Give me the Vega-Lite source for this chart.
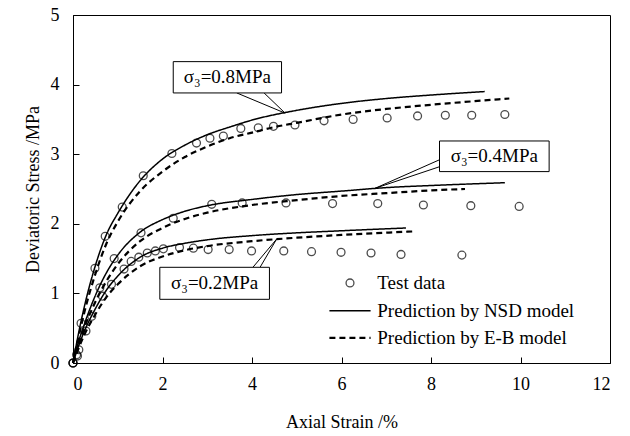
{
  "$schema": "https://vega.github.io/schema/vega-lite/v6.json",
  "width": 537,
  "height": 348,
  "autosize": "none",
  "padding": {"left": 73, "top": 15, "right": 20, "bottom": 73},
  "background": "white",
  "config": {
    "view": {"stroke": "black", "strokeWidth": 1},
    "font": "Liberation Serif",
    "axis": {
      "grid": false,
      "domainColor": "black",
      "tickColor": "black",
      "labelColor": "black",
      "titleColor": "black",
      "labelFont": "Liberation Serif",
      "titleFont": "Liberation Serif",
      "labelFontSize": 18,
      "titleFontSize": 18,
      "titleFontWeight": "normal",
      "tickSize": -6
    }
  },
  "datasets": {
    "curves": [
      {"series": "0.8 NSD", "model": "NSD", "x": 0, "y": 0},
      {"series": "0.8 NSD", "model": "NSD", "x": 0.1, "y": 0.35},
      {"series": "0.8 NSD", "model": "NSD", "x": 0.25, "y": 0.8},
      {"series": "0.8 NSD", "model": "NSD", "x": 0.5, "y": 1.4},
      {"series": "0.8 NSD", "model": "NSD", "x": 0.75, "y": 1.85},
      {"series": "0.8 NSD", "model": "NSD", "x": 1.0, "y": 2.15},
      {"series": "0.8 NSD", "model": "NSD", "x": 1.5, "y": 2.62},
      {"series": "0.8 NSD", "model": "NSD", "x": 2.0, "y": 2.93},
      {"series": "0.8 NSD", "model": "NSD", "x": 2.5, "y": 3.13},
      {"series": "0.8 NSD", "model": "NSD", "x": 3.0, "y": 3.28},
      {"series": "0.8 NSD", "model": "NSD", "x": 3.5, "y": 3.39},
      {"series": "0.8 NSD", "model": "NSD", "x": 4.0, "y": 3.49},
      {"series": "0.8 NSD", "model": "NSD", "x": 5.0, "y": 3.63},
      {"series": "0.8 NSD", "model": "NSD", "x": 6.0, "y": 3.73},
      {"series": "0.8 NSD", "model": "NSD", "x": 7.0, "y": 3.80},
      {"series": "0.8 NSD", "model": "NSD", "x": 8.0, "y": 3.85},
      {"series": "0.8 NSD", "model": "NSD", "x": 9.2, "y": 3.90},
      {"series": "0.8 EB", "model": "EB", "x": 0, "y": 0},
      {"series": "0.8 EB", "model": "EB", "x": 0.1, "y": 0.3},
      {"series": "0.8 EB", "model": "EB", "x": 0.25, "y": 0.72},
      {"series": "0.8 EB", "model": "EB", "x": 0.5, "y": 1.28},
      {"series": "0.8 EB", "model": "EB", "x": 0.75, "y": 1.72},
      {"series": "0.8 EB", "model": "EB", "x": 1.0, "y": 2.03},
      {"series": "0.8 EB", "model": "EB", "x": 1.5, "y": 2.47},
      {"series": "0.8 EB", "model": "EB", "x": 2.0, "y": 2.75},
      {"series": "0.8 EB", "model": "EB", "x": 2.5, "y": 2.96},
      {"series": "0.8 EB", "model": "EB", "x": 3.0, "y": 3.11},
      {"series": "0.8 EB", "model": "EB", "x": 3.5, "y": 3.23},
      {"series": "0.8 EB", "model": "EB", "x": 4.0, "y": 3.31},
      {"series": "0.8 EB", "model": "EB", "x": 4.5, "y": 3.39},
      {"series": "0.8 EB", "model": "EB", "x": 5.0, "y": 3.45},
      {"series": "0.8 EB", "model": "EB", "x": 6.0, "y": 3.57},
      {"series": "0.8 EB", "model": "EB", "x": 7.0, "y": 3.65},
      {"series": "0.8 EB", "model": "EB", "x": 8.0, "y": 3.71},
      {"series": "0.8 EB", "model": "EB", "x": 9.75, "y": 3.80},
      {"series": "0.4 NSD", "model": "NSD", "x": 0, "y": 0},
      {"series": "0.4 NSD", "model": "NSD", "x": 0.1, "y": 0.25},
      {"series": "0.4 NSD", "model": "NSD", "x": 0.25, "y": 0.55},
      {"series": "0.4 NSD", "model": "NSD", "x": 0.5, "y": 0.97},
      {"series": "0.4 NSD", "model": "NSD", "x": 0.75, "y": 1.3},
      {"series": "0.4 NSD", "model": "NSD", "x": 1.0, "y": 1.55},
      {"series": "0.4 NSD", "model": "NSD", "x": 1.5, "y": 1.88},
      {"series": "0.4 NSD", "model": "NSD", "x": 2.0, "y": 2.06},
      {"series": "0.4 NSD", "model": "NSD", "x": 2.5, "y": 2.18},
      {"series": "0.4 NSD", "model": "NSD", "x": 3.0, "y": 2.26},
      {"series": "0.4 NSD", "model": "NSD", "x": 4.0, "y": 2.35},
      {"series": "0.4 NSD", "model": "NSD", "x": 5.0, "y": 2.42},
      {"series": "0.4 NSD", "model": "NSD", "x": 6.0, "y": 2.47},
      {"series": "0.4 NSD", "model": "NSD", "x": 7.0, "y": 2.52},
      {"series": "0.4 NSD", "model": "NSD", "x": 8.0, "y": 2.55},
      {"series": "0.4 NSD", "model": "NSD", "x": 9.65, "y": 2.59},
      {"series": "0.4 EB", "model": "EB", "x": 0, "y": 0},
      {"series": "0.4 EB", "model": "EB", "x": 0.1, "y": 0.22},
      {"series": "0.4 EB", "model": "EB", "x": 0.25, "y": 0.5},
      {"series": "0.4 EB", "model": "EB", "x": 0.5, "y": 0.88},
      {"series": "0.4 EB", "model": "EB", "x": 0.75, "y": 1.18},
      {"series": "0.4 EB", "model": "EB", "x": 1.0, "y": 1.42},
      {"series": "0.4 EB", "model": "EB", "x": 1.5, "y": 1.75},
      {"series": "0.4 EB", "model": "EB", "x": 2.0, "y": 1.94},
      {"series": "0.4 EB", "model": "EB", "x": 2.5, "y": 2.07},
      {"series": "0.4 EB", "model": "EB", "x": 3.0, "y": 2.16},
      {"series": "0.4 EB", "model": "EB", "x": 4.0, "y": 2.27},
      {"series": "0.4 EB", "model": "EB", "x": 5.0, "y": 2.34},
      {"series": "0.4 EB", "model": "EB", "x": 6.0, "y": 2.40},
      {"series": "0.4 EB", "model": "EB", "x": 7.0, "y": 2.44},
      {"series": "0.4 EB", "model": "EB", "x": 8.0, "y": 2.48},
      {"series": "0.4 EB", "model": "EB", "x": 8.76, "y": 2.50},
      {"series": "0.2 NSD", "model": "NSD", "x": 0, "y": 0},
      {"series": "0.2 NSD", "model": "NSD", "x": 0.1, "y": 0.2},
      {"series": "0.2 NSD", "model": "NSD", "x": 0.25, "y": 0.45},
      {"series": "0.2 NSD", "model": "NSD", "x": 0.5, "y": 0.78},
      {"series": "0.2 NSD", "model": "NSD", "x": 0.75, "y": 1.05},
      {"series": "0.2 NSD", "model": "NSD", "x": 1.0, "y": 1.25},
      {"series": "0.2 NSD", "model": "NSD", "x": 1.5, "y": 1.52},
      {"series": "0.2 NSD", "model": "NSD", "x": 2.0, "y": 1.65},
      {"series": "0.2 NSD", "model": "NSD", "x": 2.5, "y": 1.72},
      {"series": "0.2 NSD", "model": "NSD", "x": 3.0, "y": 1.77},
      {"series": "0.2 NSD", "model": "NSD", "x": 4.0, "y": 1.83},
      {"series": "0.2 NSD", "model": "NSD", "x": 5.0, "y": 1.87},
      {"series": "0.2 NSD", "model": "NSD", "x": 6.0, "y": 1.90},
      {"series": "0.2 NSD", "model": "NSD", "x": 7.44, "y": 1.94},
      {"series": "0.2 EB", "model": "EB", "x": 0, "y": 0},
      {"series": "0.2 EB", "model": "EB", "x": 0.1, "y": 0.17},
      {"series": "0.2 EB", "model": "EB", "x": 0.25, "y": 0.4},
      {"series": "0.2 EB", "model": "EB", "x": 0.5, "y": 0.7},
      {"series": "0.2 EB", "model": "EB", "x": 0.75, "y": 0.95},
      {"series": "0.2 EB", "model": "EB", "x": 1.0, "y": 1.13},
      {"series": "0.2 EB", "model": "EB", "x": 1.5, "y": 1.39},
      {"series": "0.2 EB", "model": "EB", "x": 2.0, "y": 1.53},
      {"series": "0.2 EB", "model": "EB", "x": 2.5, "y": 1.62},
      {"series": "0.2 EB", "model": "EB", "x": 3.0, "y": 1.68},
      {"series": "0.2 EB", "model": "EB", "x": 4.0, "y": 1.75},
      {"series": "0.2 EB", "model": "EB", "x": 5.0, "y": 1.80},
      {"series": "0.2 EB", "model": "EB", "x": 6.0, "y": 1.84},
      {"series": "0.2 EB", "model": "EB", "x": 7.6, "y": 1.89}
    ],
    "tests": [
      {"s": "0.8", "x": 0, "y": 0}, {"s": "0.8", "x": 0.08, "y": 0.12}, {"s": "0.8", "x": 0.18, "y": 0.57},
      {"s": "0.8", "x": 0.49, "y": 1.36}, {"s": "0.8", "x": 0.72, "y": 1.82}, {"s": "0.8", "x": 1.1, "y": 2.24},
      {"s": "0.8", "x": 1.57, "y": 2.69}, {"s": "0.8", "x": 2.21, "y": 3.01}, {"s": "0.8", "x": 2.76, "y": 3.16},
      {"s": "0.8", "x": 3.06, "y": 3.23}, {"s": "0.8", "x": 3.36, "y": 3.26}, {"s": "0.8", "x": 3.75, "y": 3.37},
      {"s": "0.8", "x": 4.14, "y": 3.38}, {"s": "0.8", "x": 4.48, "y": 3.40}, {"s": "0.8", "x": 4.96, "y": 3.42},
      {"s": "0.8", "x": 5.61, "y": 3.48}, {"s": "0.8", "x": 6.26, "y": 3.50}, {"s": "0.8", "x": 7.02, "y": 3.52},
      {"s": "0.8", "x": 7.70, "y": 3.55}, {"s": "0.8", "x": 8.32, "y": 3.56}, {"s": "0.8", "x": 8.91, "y": 3.56},
      {"s": "0.8", "x": 9.65, "y": 3.57},
      {"s": "0.4", "x": 0, "y": 0}, {"s": "0.4", "x": 0.13, "y": 0.19}, {"s": "0.4", "x": 0.29, "y": 0.46},
      {"s": "0.4", "x": 0.6, "y": 1.08}, {"s": "0.4", "x": 0.92, "y": 1.5}, {"s": "0.4", "x": 1.52, "y": 1.87},
      {"s": "0.4", "x": 2.24, "y": 2.08}, {"s": "0.4", "x": 3.1, "y": 2.28}, {"s": "0.4", "x": 3.78, "y": 2.30},
      {"s": "0.4", "x": 4.76, "y": 2.30}, {"s": "0.4", "x": 5.8, "y": 2.29}, {"s": "0.4", "x": 6.81, "y": 2.29},
      {"s": "0.4", "x": 7.83, "y": 2.27}, {"s": "0.4", "x": 8.89, "y": 2.26}, {"s": "0.4", "x": 9.97, "y": 2.25},
      {"s": "0.2", "x": 0, "y": 0}, {"s": "0.2", "x": 0.1, "y": 0.1}, {"s": "0.2", "x": 0.42, "y": 0.67},
      {"s": "0.2", "x": 0.66, "y": 0.96}, {"s": "0.2", "x": 0.86, "y": 1.13}, {"s": "0.2", "x": 1.14, "y": 1.35},
      {"s": "0.2", "x": 1.3, "y": 1.46}, {"s": "0.2", "x": 1.47, "y": 1.52}, {"s": "0.2", "x": 1.66, "y": 1.58},
      {"s": "0.2", "x": 1.84, "y": 1.61}, {"s": "0.2", "x": 2.02, "y": 1.64}, {"s": "0.2", "x": 2.38, "y": 1.66},
      {"s": "0.2", "x": 2.69, "y": 1.65}, {"s": "0.2", "x": 3.02, "y": 1.63}, {"s": "0.2", "x": 3.49, "y": 1.63},
      {"s": "0.2", "x": 3.99, "y": 1.61}, {"s": "0.2", "x": 4.71, "y": 1.61}, {"s": "0.2", "x": 5.33, "y": 1.60},
      {"s": "0.2", "x": 5.99, "y": 1.59}, {"s": "0.2", "x": 6.66, "y": 1.58}, {"s": "0.2", "x": 7.33, "y": 1.56},
      {"s": "0.2", "x": 8.69, "y": 1.55}
    ],
    "pointers": [
      {"s": "0.8", "o": 1, "x": 3.66, "y": 3.88}, {"s": "0.8", "o": 2, "x": 4.74, "y": 3.59}, {"s": "0.8", "o": 3, "x": 4.27, "y": 3.88},
      {"s": "0.4", "o": 1, "x": 8.19, "y": 2.92}, {"s": "0.4", "o": 2, "x": 6.75, "y": 2.51}, {"s": "0.4", "o": 3, "x": 8.19, "y": 2.82},
      {"s": "0.2", "o": 1, "x": 4.02, "y": 1.375}, {"s": "0.2", "o": 2, "x": 4.55, "y": 1.78}, {"s": "0.2", "o": 3, "x": 4.18, "y": 1.375}
    ],
    "boxes": [
      {"label": "σ₃=0.8MPa", "x1": 2.24, "x2": 4.66, "y1": 3.88, "y2": 4.33, "cx": 3.45, "cy": 4.105},
      {"label": "σ₃=0.4MPa", "x1": 8.19, "x2": 10.64, "y1": 2.75, "y2": 3.19, "cx": 9.415, "cy": 2.97},
      {"label": "σ₃=0.2MPa", "x1": 1.94, "x2": 4.39, "y1": 0.915, "y2": 1.375, "cx": 3.165, "cy": 1.145}
    ],
    "legend": [
      {"model": "Test", "label": "Test data", "x1": 6.19, "x2": 6.19, "y": 1.15, "tx": 6.8},
      {"model": "NSD", "label": "Prediction by NSD model", "x1": 5.73, "x2": 6.65, "y": 0.75, "tx": 6.8},
      {"model": "EB", "label": "Prediction by E-B model", "x1": 5.73, "x2": 6.65, "y": 0.36, "tx": 6.8}
    ]
  },
  "layer": [
    {
      "data": {"name": "curves"},
      "mark": {"type": "line", "interpolate": "monotone", "color": "black"},
      "encoding": {
        "x": {"field": "x", "type": "quantitative", "scale": {"domain": [0, 12], "nice": false},
          "axis": {"values": [0, 2, 4, 6, 8, 10, 12], "format": "d", "title": "Axial Strain /%", "labelFont": "Liberation Serif", "titleFont": "Liberation Serif", "labelPadding": 18, "titlePadding": 20}},
        "y": {"field": "y", "type": "quantitative", "scale": {"domain": [0, 5], "nice": false},
          "axis": {"values": [0, 1, 2, 3, 4, 5], "format": "d", "title": "Deviatoric Stress /MPa", "labelFont": "Liberation Serif", "titleFont": "Liberation Serif", "labelPadding": 20, "titlePadding": 8}},
        "detail": {"field": "series"},
        "strokeDash": {"field": "model", "type": "nominal", "scale": {"domain": ["NSD", "EB"], "range": [[1, 0], [6, 4]]}, "legend": null},
        "strokeWidth": {"field": "model", "type": "nominal", "scale": {"domain": ["NSD", "EB"], "range": [1.5, 2.2]}, "legend": null}
      }
    },
    {
      "data": {"name": "tests"},
      "mark": {"type": "point", "shape": "circle", "filled": false, "color": "black", "size": 62, "strokeWidth": 1.3},
      "encoding": {
        "x": {"field": "x", "type": "quantitative"},
        "y": {"field": "y", "type": "quantitative"}
      }
    },
    {
      "data": {"name": "pointers"},
      "mark": {"type": "line", "color": "black", "strokeWidth": 1},
      "encoding": {
        "x": {"field": "x", "type": "quantitative"},
        "y": {"field": "y", "type": "quantitative"},
        "detail": {"field": "s"},
        "order": {"field": "o"}
      }
    },
    {
      "data": {"name": "boxes"},
      "mark": {"type": "rect", "fill": "white", "stroke": "black", "strokeWidth": 1},
      "encoding": {
        "x": {"field": "x1", "type": "quantitative"},
        "x2": {"field": "x2"},
        "y": {"field": "y1", "type": "quantitative"},
        "y2": {"field": "y2"}
      }
    },
    {
      "data": {"name": "boxes"},
      "mark": {"type": "text", "font": "Liberation Serif", "fontSize": 19, "align": "center", "baseline": "middle", "color": "black"},
      "encoding": {
        "x": {"field": "cx", "type": "quantitative"},
        "y": {"field": "cy", "type": "quantitative"},
        "text": {"field": "label"}
      }
    },
    {
      "data": {"name": "legend"},
      "transform": [{"filter": "datum.model !== 'Test'"}],
      "mark": {"type": "rule", "color": "black"},
      "encoding": {
        "x": {"field": "x1", "type": "quantitative"},
        "x2": {"field": "x2"},
        "y": {"field": "y", "type": "quantitative"},
        "strokeDash": {"field": "model", "type": "nominal", "scale": {"domain": ["NSD", "EB"], "range": [[1, 0], [6, 4]]}, "legend": null},
        "strokeWidth": {"field": "model", "type": "nominal", "scale": {"domain": ["NSD", "EB"], "range": [1.5, 2.2]}, "legend": null}
      }
    },
    {
      "data": {"name": "legend"},
      "transform": [{"filter": "datum.model === 'Test'"}],
      "mark": {"type": "point", "shape": "circle", "filled": false, "color": "black", "size": 62, "strokeWidth": 1.3},
      "encoding": {
        "x": {"field": "x1", "type": "quantitative"},
        "y": {"field": "y", "type": "quantitative"}
      }
    },
    {
      "data": {"name": "legend"},
      "mark": {"type": "text", "font": "Liberation Serif", "fontSize": 19, "align": "left", "baseline": "middle", "color": "black"},
      "encoding": {
        "x": {"field": "tx", "type": "quantitative"},
        "y": {"field": "y", "type": "quantitative"},
        "text": {"field": "label"}
      }
    }
  ]
}
